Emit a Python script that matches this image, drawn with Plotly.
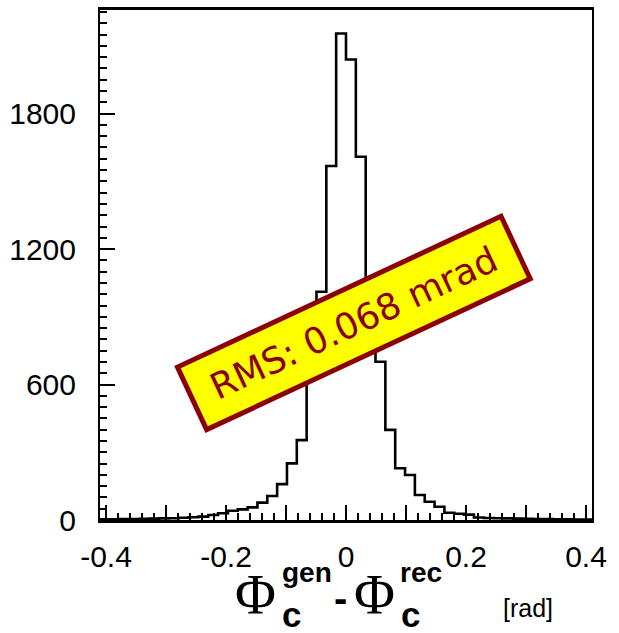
import plotly.graph_objects as go

# Histogram of the generated minus reconstructed angle: 50 bins over [-0.41, 0.41] rad
bin_lo = -0.41
bin_width = 0.0164
counts = [
    3, 3, 4, 4, 5, 6, 7, 8, 10, 12,
    15, 22, 30, 41, 47, 56, 77, 106, 159, 251,
    354, 680, 1011, 1568, 2155, 2040, 1609, 1020, 701, 399,
    229, 199, 111, 81, 59, 32, 28, 24, 11, 9,
    8, 7, 6, 5, 4, 4, 3, 3, 2, 2,
]

x_major = [-0.4, -0.3, -0.2, -0.1, 0.0, 0.1, 0.2, 0.3, 0.4]
x_labels = ["-0.4", "", "-0.2", "", "0", "", "0.2", "", "0.4"]
y_major = [0, 600, 1200, 1800]
y_labels = ["0", "600", "1200", "1800"]

rms_text = "RMS: 0.068 mrad"

# step outline of the histogram
edges = [bin_lo + i * bin_width for i in range(len(counts) + 1)]
xs = [edges[0]] + edges + [edges[-1]]
ys = [0] + counts + [counts[-1], 0]

fig = go.Figure()
fig.add_trace(go.Scatter(
    x=xs, y=ys, mode="lines", line=dict(color="black", width=2.6, shape="hv"),
    hoverinfo="skip", showlegend=False,
))

W, H = 619, 633
L, R, T, B = 100, 27, 10, 113
pw, ph = W - L - R, H - T - B


def px(xp):
    return (xp - L) / pw


def py(yp):
    return (H - B - yp) / ph


tick_font = dict(family="Liberation Sans, Arial, sans-serif", size=30, color="black")

fig.update_layout(
    width=W, height=H,
    margin=dict(l=L, r=R, t=T, b=B, autoexpand=False),
    paper_bgcolor="white", plot_bgcolor="white",
    showlegend=False,
    xaxis=dict(
        range=[-0.41, 0.41], showgrid=False, zeroline=False, automargin=False,
        showline=True, linecolor="black", linewidth=2.5, mirror=True,
        tickmode="array", tickvals=x_major, ticktext=x_labels,
        ticks="inside", ticklen=15, tickwidth=2, tickcolor="black",
        minor=dict(dtick=0.02, tick0=0, ticks="inside", ticklen=7, tickwidth=2, tickcolor="black"),
        tickfont=tick_font, ticklabelstandoff=8,
    ),
    yaxis=dict(
        range=[0, 2259], showgrid=False, zeroline=False, automargin=False,
        showline=True, linecolor="black", linewidth=2, mirror=True,
        tickmode="array", tickvals=y_major, ticktext=y_labels,
        ticks="inside", ticklen=15, tickwidth=2, tickcolor="black",
        minor=dict(dtick=50, tick0=0, ticks="inside", ticklen=7, tickwidth=2, tickcolor="black"),
        tickfont=tick_font, ticklabelstandoff=16,
    ),
)

# RMS box, tilted
fig.add_annotation(
    x=0.013, y=871, xref="x", yref="y", text=rms_text, showarrow=False,
    textangle=-25, font=dict(family="Comic Sans MS, DejaVu Sans, sans-serif", size=36, color="#8b0000"),
    bgcolor="#ffff00", bordercolor="#8b0000", borderwidth=5, borderpad=0,
    width=352, height=64, align="center", valign="middle",
)

# x-axis title built from pieces: Phi_c^gen - Phi_c^rec  [rad]
serif = "Liberation Serif, Times New Roman, serif"
sans = "Liberation Sans, Arial, sans-serif"
title_parts = [
    ("Φ", 255, 595, serif, 56, False),
    ("c", 291, 614, sans, 35, True),
    ("gen", 307, 572, sans, 28, True),
    ("-", 340, 598, sans, 40, True),
    ("Φ", 374, 595, serif, 56, False),
    ("c", 410, 614, sans, 35, True),
    ("rec", 421, 572, sans, 28, True),
    ("[rad]", 528, 608, sans, 25, False),
]
for txt, cx, cy, fam, size, bold in title_parts:
    fig.add_annotation(
        x=px(cx), y=py(cy), xref="paper", yref="paper",
        text=f"<b>{txt}</b>" if bold else txt, showarrow=False,
        xanchor="center", yanchor="middle",
        font=dict(family=fam, size=size, color="black"),
    )

fig.write_html("out.html")
